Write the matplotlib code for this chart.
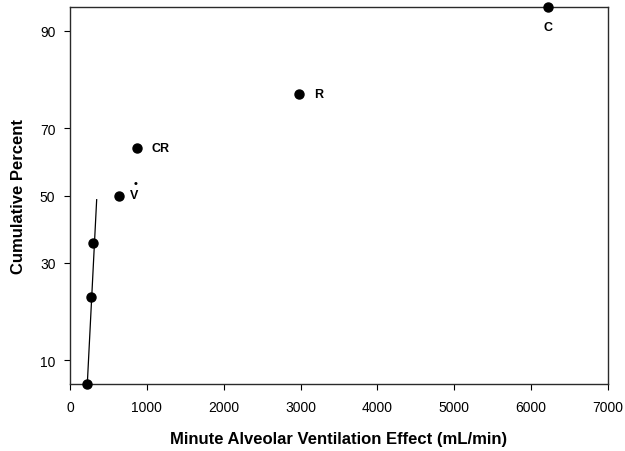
import numpy as np
import matplotlib
matplotlib.use("Agg")
import matplotlib.pyplot as plt
from matplotlib.ticker import NullLocator, FixedLocator
from statistics import NormalDist

# ---- data ----
point_labels = ["", "", "", "V", "CR", "R", "C"]
ventilation = [225, 273, 303, 641, 867, 2984, 6222]        # mL/min
cum_percent = [7.1, 21.4, 35.7, 50.0, 64.3, 78.6, 92.9]     # cumulative %
fit_x = [225, 347]
fit_y = [7.1, 48.7]
xticks = [0, 1000, 2000, 3000, 4000, 5000, 6000, 7000]
yticks = [10, 30, 50, 70, 90]

plt.rcParams['font.family'] = ['Liberation Sans', 'DejaVu Sans']

_nd = NormalDist()


def _ppf(v):
    if not np.isfinite(v):
        return np.nan
    q = min(max(v / 100.0, 1e-12), 1 - 1e-12)
    return _nd.inv_cdf(q)


def _cdf(z):
    if not np.isfinite(z):
        return np.nan
    return _nd.cdf(z) * 100.0


fwd = np.vectorize(_ppf, otypes=[float])
inv = np.vectorize(_cdf, otypes=[float])

fig = plt.figure(figsize=(6.25, 4.52), dpi=100)
ax = fig.add_axes([70 / 625, 1 - 385 / 452, (608 - 70) / 625, (385 - 8) / 452])
ax.set_yscale('function', functions=(fwd, inv))

ax.plot(fit_x, fit_y, color='black', lw=0.9, zorder=2)
ax.plot(ventilation, cum_percent, 'o', color='black', ms=6.5, clip_on=False, zorder=3)

ax.set_xlim(0, 7000)
ax.set_ylim(min(cum_percent), max(cum_percent))
ax.xaxis.set_major_locator(FixedLocator(xticks))
ax.yaxis.set_major_locator(FixedLocator(yticks))
ax.xaxis.set_minor_locator(NullLocator())
ax.yaxis.set_minor_locator(NullLocator())
ax.set_xticklabels([str(t) for t in xticks])
ax.set_yticklabels([str(t) for t in yticks])
ax.tick_params(direction='out', length=4.5, width=0.8, labelsize=10, colors='black')
ax.tick_params(axis='x', pad=7)
ax.tick_params(axis='y', pad=6)

for s in ax.spines.values():
    s.set_linewidth(1.0)
    s.set_color('#2a2a2a')

# point labels
lab_kw = dict(textcoords='offset points', fontsize=9, fontweight='bold', va='center')
for x, y, lab in zip(ventilation, cum_percent, point_labels):
    if lab == "C":
        ax.annotate(lab, (x, y), xytext=(0, -14.5), ha='center', **lab_kw)
    elif lab == "R" or lab == "CR":
        ax.annotate(lab, (x, y), xytext=(10.5, 0), ha='left', **lab_kw)
    elif lab == "V":
        ax.annotate(lab, (x, y), xytext=(8.0, 0), ha='left', **lab_kw)
        ax.annotate("\u2022", (x, y), xytext=(11.6, 8.8), ha='center',
                    textcoords='offset points', fontsize=8, fontweight='bold', va='center')

ax.set_xlabel("Minute Alveolar Ventilation Effect (mL/min)", fontsize=12,
              fontweight='bold', labelpad=12)
ax.set_ylabel("Cumulative Percent", fontsize=12, fontweight='bold', labelpad=10)

fig.savefig("out.png", dpi=100)
